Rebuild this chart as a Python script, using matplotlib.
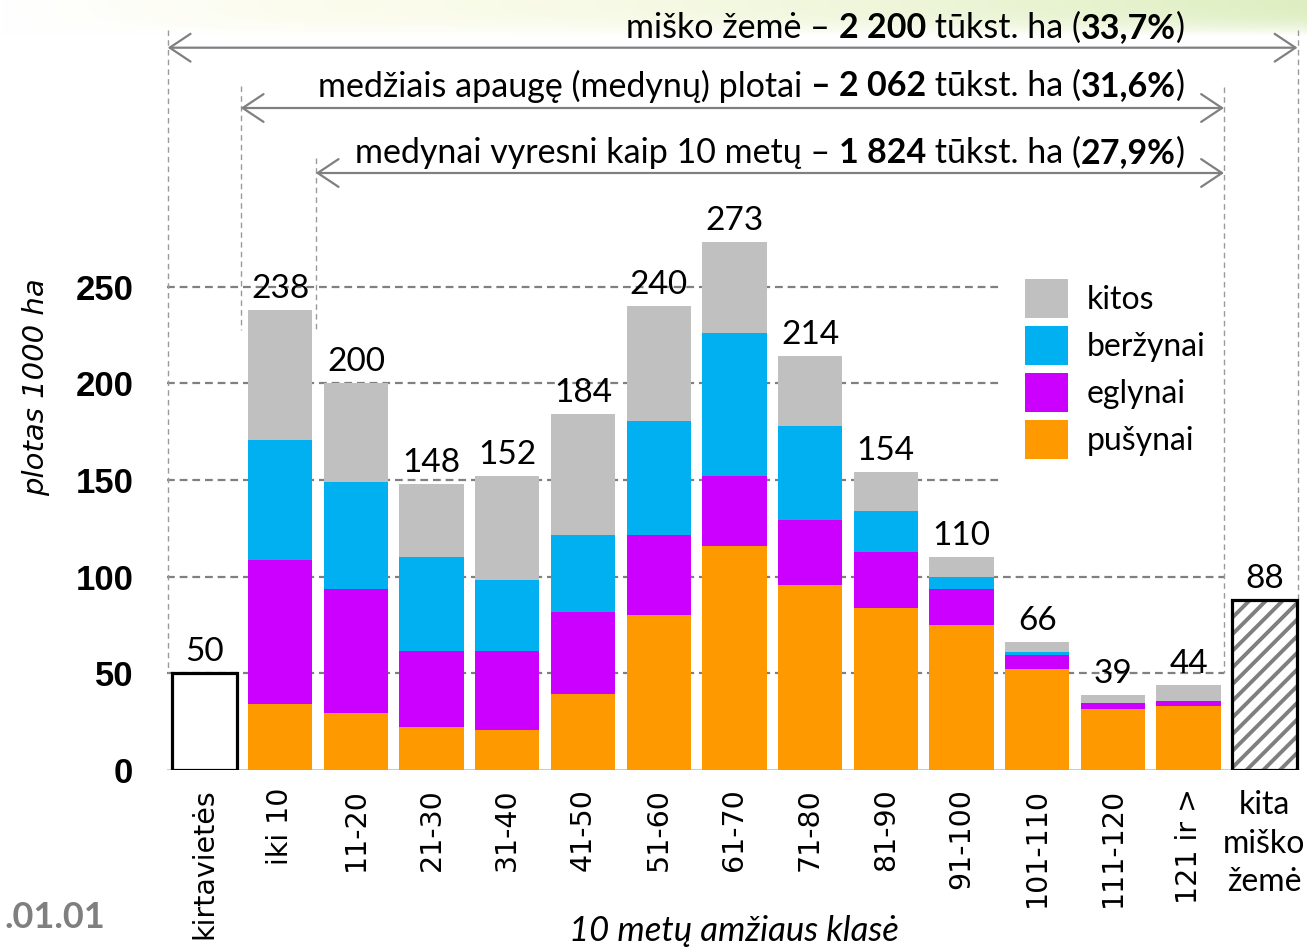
import matplotlib
matplotlib.use('Agg')
import matplotlib.pyplot as plt
import numpy as np
from matplotlib.patches import FancyArrowPatch, Patch

# ---------------- data ----------------
categories = ['kirtavietės', 'iki 10', '11-20', '21-30', '31-40', '41-50', '51-60',
              '61-70', '71-80', '81-90', '91-100', '101-110', '111-120', '121 ir >']
last_category = 'kita\nmiško\nžemė'
pusynai = [34.0, 29.6, 22.2, 20.7, 39.3, 80.0, 115.7, 95.7, 84.0, 75.0, 52.1, 31.5, 33.1]
eglynai = [74.6, 64.0, 39.5, 41.0, 42.4, 41.4, 36.3, 33.4, 28.8, 18.6, 7.4, 3.3, 2.6]
berzynai = [62.0, 55.5, 48.6, 36.5, 39.7, 58.8, 74.0, 48.8, 21.0, 6.4, 1.5, 0.0, 0.0]
kitos = [67.4, 50.9, 37.7, 53.8, 62.6, 59.8, 47.0, 36.1, 20.2, 10.0, 5.0, 4.2, 8.3]
totals = [238, 200, 148, 152, 184, 240, 273, 214, 154, 110, 66, 39, 44]
kirtavietes_value = 50
kita_value = 88
yticks = [0, 50, 100, 150, 200, 250]
series_names = ['kitos', 'beržynai', 'eglynai', 'pušynai']
series_colors = ['#C0C0C0', '#00B0F0', '#CC00FF', '#FF9900']

annotations = [
    [('miško žemė – ', 'normal'), ('2 200', 'bold'), (' tūkst. ha (', 'normal'), ('33,7%', 'bold'), (')', 'normal')],
    [('medžiais apaugę (medynų) plotai ', 'normal'), ('– 2 062', 'bold'), (' tūkst. ha (', 'normal'), ('31,6%', 'bold'), (')', 'normal')],
    [('medynai vyresni kaip 10 metų – ', 'normal'), ('1 824', 'bold'), (' tūkst. ha (', 'normal'), ('27,9%', 'bold'), (')', 'normal')],
]

# ---------------- layout helpers ----------------
W, H = 1307, 948
X0, DX = 204.5, 75.7      # pixel of category 0, pixel per category
Y0, DY = 770.0, 1.934     # pixel of value 0, pixel per unit


def dx(p):
    return (p - X0) / DX


def dy(p):
    return (Y0 - p) / DY


CAL = 'Lato'
fig = plt.figure(figsize=(W / 100, H / 100), dpi=100)
fig.patch.set_facecolor('white')

# soft green gradient band at the top
gax = fig.add_axes([0, 1 - 36 / H, 1, 36 / H])
gx = np.linspace(0, 1, 300)
gy = np.linspace(0, 1, 40)
GX, GY = np.meshgrid(gx, gy)
c_left = np.array([1.0, 1.0, 1.0])
c_mid = np.array([0.985, 0.988, 0.925])
c_right = np.array([0.87, 0.935, 0.76])
t = np.clip(GX, 0, 1)[..., None]
col = np.where(t < 0.25, c_left + (c_mid - c_left) * (t / 0.25),
               c_mid + (c_right - c_mid) * ((t - 0.25) / 0.75) ** 1.5)
fade = (1 - GY ** 3)[..., None]
img = 1 - (1 - col) * fade
gax.imshow(img, aspect='auto', origin='upper', extent=[0, 1, 0, 1])
gax.axis('off')

left = (X0 - 0.5 * DX) / W
right = (X0 + 14.5 * DX) / W
ax = fig.add_axes([left, (H - Y0) / H, right - left, Y0 / H])
ax.set_xlim(-0.5, 14.5)
ax.set_ylim(0, Y0 / DY)
ax.patch.set_alpha(0)
for s in ax.spines.values():
    s.set_visible(False)

# gridlines
grid_kw = dict(color='#808080', lw=1.6, dashes=(3.5, 2.2), zorder=0.5)
for v in yticks[1:]:
    xr = dx(1224) if v <= 100 else dx(1002)
    ax.plot([-0.5, xr], [v, v], **grid_kw)
ax.plot([-0.5, 14.45], [0, 0], color='#c8c8c8', lw=2, zorder=0.6)

# vertical dashed guide lines
vkw = dict(color='#9a9a9a', lw=1.0, dashes=(4, 3), zorder=0.5)
ax.plot([dx(167.7)] * 2, [dy(30), kirtavietes_value], **vkw)
ax.plot([dx(240.7)] * 2, [dy(86), dy(330)], **vkw)
ax.plot([dx(315.7)] * 2, [dy(158), dy(330)], **vkw)
ax.plot([dx(1298.3)] * 2, [dy(30), kita_value], **vkw)
ax.plot([dx(1224)] * 2, [dy(87), 50], **vkw)

# arrows
for (xa, xb, yp) in [(167.7, 1297.5, 47.7), (240.7, 1224, 108), (315.7, 1224, 173)]:
    arr = FancyArrowPatch((dx(xa), dy(yp)), (dx(xb), dy(yp)),
                          arrowstyle='<->,head_length=0.75,head_width=0.5',
                          mutation_scale=20, color='#808080', lw=1.6,
                          shrinkA=0, shrinkB=0, zorder=3)
    ax.add_patch(arr)

# bars
bw = 0.86
ax.bar(0, kirtavietes_value, width=bw, color='white', edgecolor='black', lw=2.3, zorder=2)
x = np.arange(1, 14)
bottom = np.zeros(13)
stack = [pusynai, eglynai, berzynai, kitos]
stack_colors = series_colors[::-1]
for vals, c in zip(stack, stack_colors):
    ax.bar(x, vals, width=0.85, bottom=bottom, color=c, lw=0, zorder=2)
    bottom += np.array(vals)
plt.rcParams['hatch.linewidth'] = 2.8
ax.bar(14, kita_value, width=bw, color='white', edgecolor='#7f7f7f', hatch='//', lw=0, zorder=2)
ax.bar(14, kita_value, width=bw, fill=False, edgecolor='black', lw=2.3, zorder=2.1)

# value labels
lab_kw = dict(ha='center', va='baseline', fontsize=24, family=CAL, color='black', zorder=4)
off = 12 / DY
ax.text(0, kirtavietes_value + off, str(kirtavietes_value), **lab_kw)
for xi, tot in zip(x, totals):
    ax.text(xi, tot + off, str(tot), **lab_kw)
ax.text(14, kita_value + off, str(kita_value), **lab_kw)

# axes ticks
ax.set_yticks(yticks)
ax.set_yticklabels([str(v) for v in yticks], fontsize=25, fontweight='bold', family='Liberation Sans')
ax.tick_params(axis='y', length=0, pad=24)
ax.set_xticks(np.arange(0, 14))
ax.set_xticklabels(categories, rotation=90, fontsize=20.5, family='DejaVu Sans', va='top')
ax.tick_params(axis='x', length=0, pad=13)
ax.text(14, dy(790), last_category, ha='center', va='top', fontsize=23, family=CAL,
        linespacing=1.36, multialignment='center')

# axis titles
fig.text(36 / W, 1 - 387 / H, 'plotas 1000 ha', rotation=90, ha='center', va='center',
         fontsize=21, style='italic', family='DejaVu Sans')
fig.text(734 / W, 1 - 931 / H, '10 metų amžiaus klasė', ha='center', va='center',
         fontsize=25, style='italic', family=CAL)
fig.text(105 / W, 1 - 918 / H, '.01.01', ha='right', va='center', fontsize=26,
         fontweight='bold', family=CAL, color='#7f7f7f')

# legend
handles = [Patch(facecolor=c, edgecolor='none') for c in series_colors]
ax.legend(handles, series_names, loc='upper left', bbox_to_anchor=(1025 / W, 1 - 279 / H),
          bbox_transform=fig.transFigure, frameon=False, prop=dict(family=CAL, size=23),
          handlelength=1.34, handleheight=1.5, handletextpad=0.6, labelspacing=0.25,
          borderpad=0, borderaxespad=0)

# top annotations with mixed bold text, right aligned
renderer = fig.canvas.get_renderer()
for pieces, yp in zip(annotations, [28, 86, 153]):
    xr = 1185
    for txt, wt in reversed(pieces):
        tt = fig.text(xr / W, 1 - yp / H, txt, ha='right', va='center', fontsize=24.5,
                      fontweight=wt, family=CAL)
        bb = tt.get_window_extent(renderer=renderer)
        xr = bb.x0

fig.savefig('out.png', dpi=100)
